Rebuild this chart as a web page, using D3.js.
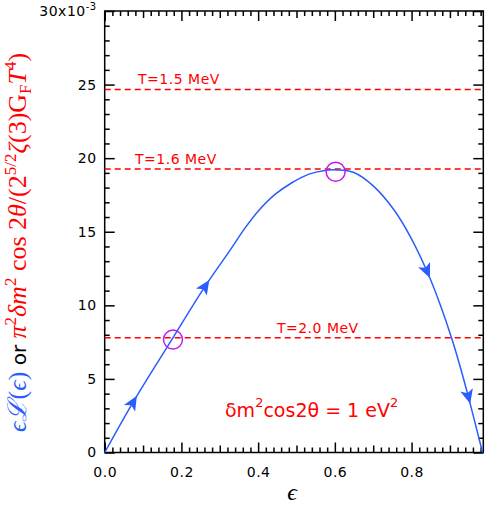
<!DOCTYPE html>
<html>
<head>
<meta charset="utf-8">
<script src="https://cdn.jsdelivr.net/npm/d3@7"></script>
<style>
  body { margin: 0; background: #fff; }
  svg { display: block; }
  .tick text { font-family: "DejaVu Sans", sans-serif; font-size: 14px; letter-spacing: 0.5px; fill: #000; }
</style>
</head>
<body>
<svg width="485" height="508"></svg>
<script>
// curve, values in units of 1e-3
var epsVals = [0, 0.075, 0.175, 0.262, 0.327, 0.366, 0.4, 0.444, 0.488, 0.531, 0.574, 0.605, 0.648, 0.70, 0.753, 0.796, 0.84, 0.874, 0.905, 0.926, 0.948, 0.985];
var lumVals = [0, 3.46, 7.67, 11.3, 13.75, 15.26, 16.4, 17.54, 18.33, 18.9, 19.17, 19.2, 19.04, 18.12, 16.53, 14.71, 12.33, 10.09, 7.73, 5.9, 3.8, 0];

// dashed temperature levels
var tempLabels = ["T=1.5 MeV", "T=1.6 MeV", "T=2.0 MeV"];
var tempLevels = [24.67, 19.26, 7.79];
var tempLabelEps = [0.087, 0.079, 0.449];

// crossing points
var circleEps = [0.178, 0.602];
var circleVals = [7.67, 19.08];

// arrow heads along the curve
var arrowEps = [0.074, 0.262, 0.84, 0.948];

var xTicks = [0, 0.2, 0.4, 0.6, 0.8];
var xMid = [0.1, 0.3, 0.5, 0.7, 0.9];
var yTicks = [0, 5, 10, 15, 20, 25, 30];

var blue = "#2a5cff", red = "#ff0000", purple = "#c21cf0";

var svg = d3.select("svg");
var pLeft = 104.7, pRight = 483.3, pTop = 11, pBottom = 452.5;

var x = d3.scaleLinear().domain([0, 0.987]).range([pLeft, pRight]);
var y = d3.scaleLinear().domain([0, 30]).range([pBottom, pTop]);

var xMinor = d3.range(0, 0.99, 0.02).filter(function(d) { return Math.abs(d * 10 - Math.round(d * 10)) > 0.01; });
var yMinor = d3.range(0, 30, 1).filter(function(d) { return d % 5 != 0; });

function tickGroup(axis, tx, ty) {
    var g = svg.append("g").attr("transform", "translate(" + tx + "," + ty + ")").call(axis);
    g.select(".domain").remove();
    g.selectAll("line").attr("stroke", "#000").attr("stroke-width", 1.5);
    return g;
}

// bottom
tickGroup(d3.axisBottom(x).tickValues(xTicks).tickSizeInner(-10).tickSizeOuter(0).tickPadding(14.5).tickFormat(d3.format(".1f")), 0, pBottom);
tickGroup(d3.axisBottom(x).tickValues(xMid).tickSizeInner(-7).tickSizeOuter(0).tickFormat(""), 0, pBottom);
tickGroup(d3.axisBottom(x).tickValues(xMinor).tickSizeInner(-5).tickSizeOuter(0).tickFormat(""), 0, pBottom);
// top
tickGroup(d3.axisTop(x).tickValues(xTicks).tickSizeInner(-10).tickSizeOuter(0).tickFormat(""), 0, pTop);
tickGroup(d3.axisTop(x).tickValues(xMid).tickSizeInner(-7).tickSizeOuter(0).tickFormat(""), 0, pTop);
tickGroup(d3.axisTop(x).tickValues(xMinor).tickSizeInner(-5).tickSizeOuter(0).tickFormat(""), 0, pTop);
// left
tickGroup(d3.axisLeft(y).tickValues(yTicks).tickSizeInner(-10).tickSizeOuter(0).tickPadding(8)
    .tickFormat(function(d) { return d == 30 ? "" : d; }), pLeft, 0);
tickGroup(d3.axisLeft(y).tickValues(yMinor).tickSizeInner(-5).tickSizeOuter(0).tickFormat(""), pLeft, 0);
// right
tickGroup(d3.axisRight(y).tickValues(yTicks).tickSizeInner(-10).tickSizeOuter(0).tickFormat(""), pRight, 0);
tickGroup(d3.axisRight(y).tickValues(yMinor).tickSizeInner(-5).tickSizeOuter(0).tickFormat(""), pRight, 0);

// 30x10^-3 label
var topLab = svg.append("text")
    .attr("x", pLeft - 8).attr("y", y(30)).attr("dy", "0.36em")
    .attr("text-anchor", "end")
    .attr("font-family", "DejaVu Sans, sans-serif").attr("font-size", 14)
    .attr("letter-spacing", 0.5);
topLab.append("tspan").text("30x10");
topLab.append("tspan").attr("dy", -6).attr("font-size", 10).text("-3");

// frame
svg.append("rect")
    .attr("x", pLeft).attr("y", pTop)
    .attr("width", pRight - pLeft).attr("height", pBottom - pTop)
    .attr("fill", "none").attr("stroke", "#000").attr("stroke-width", 1.5);

// dashed levels
svg.append("g").selectAll("line")
    .data(tempLevels)
    .enter().append("line")
    .attr("x1", pLeft).attr("x2", pRight)
    .attr("y1", function(d) { return y(d); })
    .attr("y2", function(d) { return y(d); })
    .attr("stroke", red).attr("stroke-width", 1.5)
    .attr("stroke-dasharray", "6,4");

svg.append("g").selectAll("text")
    .data(tempLabels)
    .enter().append("text")
    .attr("x", function(d, i) { return x(tempLabelEps[i]); })
    .attr("y", function(d, i) { return y(tempLevels[i]) - 5; })
    .attr("fill", red)
    .attr("font-family", "DejaVu Sans, sans-serif").attr("font-size", 14)
    .attr("letter-spacing", 0.5)
    .text(function(d) { return d; });

// curve
var pts = epsVals.map(function(e, i) { return [e, lumVals[i]]; });
var line = d3.line()
    .x(function(d) { return x(d[0]); })
    .y(function(d) { return y(d[1]); })
    .curve(d3.curveCatmullRom.alpha(0.5));

var curve = svg.append("path")
    .datum(pts)
    .attr("d", line)
    .attr("fill", "none")
    .attr("stroke", blue).attr("stroke-width", 1.5);

// arrows, placed on the drawn path
var node = curve.node();
var total = node.getTotalLength();
function lengthAtX(px) {
    var lo = 0, hi = total;
    for (var k = 0; k < 40; k++) {
        var mid = (lo + hi) / 2;
        if (node.getPointAtLength(mid).x < px) lo = mid; else hi = mid;
    }
    return lo;
}
svg.append("g").selectAll("path")
    .data(arrowEps)
    .enter().append("path")
    .attr("d", "M7.5,0 L-7,-6.5 L-3.5,0 L-7,6.5 Z")
    .attr("fill", blue)
    .attr("transform", function(d) {
        var L = lengthAtX(x(d));
        var p = node.getPointAtLength(L);
        var a = node.getPointAtLength(Math.max(0, L - 2));
        var b = node.getPointAtLength(Math.min(total, L + 2));
        var ang = Math.atan2(b.y - a.y, b.x - a.x) * 180 / Math.PI;
        return "translate(" + p.x + "," + p.y + ") rotate(" + ang + ")";
    });

// circles
svg.append("g").selectAll("circle")
    .data(circleEps)
    .enter().append("circle")
    .attr("cx", function(d) { return x(d); })
    .attr("cy", function(d, i) { return y(circleVals[i]); })
    .attr("r", 9.5)
    .attr("fill", "none")
    .attr("stroke", purple).attr("stroke-width", 1.5);

// annotation
var ann = svg.append("text")
    .attr("x", 225).attr("y", 417)
    .attr("fill", red)
    .attr("font-family", "DejaVu Sans, sans-serif").attr("font-size", 19);
ann.append("tspan").text("δm");
ann.append("tspan").attr("dy", -10).attr("font-size", 13).text("2");
ann.append("tspan").attr("dy", 10).text("cos2θ = 1 eV");
ann.append("tspan").attr("dy", -10).attr("font-size", 13).text("2");

// x label
svg.append("text")
    .attr("x", 292).attr("y", 500)
    .attr("text-anchor", "middle")
    .attr("font-family", "Liberation Serif, serif").attr("font-style", "italic").attr("font-size", 24)
    .text("ϵ");

// y label, runs upward from the bottom
var yl = svg.append("text")
    .attr("transform", "translate(26,432) rotate(-90)")
    .attr("text-anchor", "start")
    .attr("font-family", "Liberation Serif, serif").attr("font-size", 26);
yl.append("tspan").attr("fill", blue).attr("font-style", "italic").text("ϵℒ");
yl.append("tspan").attr("fill", blue).text("(");
yl.append("tspan").attr("fill", blue).attr("font-style", "italic").text("ϵ");
yl.append("tspan").attr("fill", blue).text(")");
yl.append("tspan").attr("fill", "#000").attr("font-family", "DejaVu Sans, sans-serif").attr("font-size", 20).text("  or  ");
yl.append("tspan").attr("fill", red).attr("font-style", "italic").text("π");
yl.append("tspan").attr("fill", red).attr("dy", -10).attr("font-size", 17).text("2");
yl.append("tspan").attr("fill", red).attr("dy", 10).attr("font-style", "italic").text("δm");
yl.append("tspan").attr("fill", red).attr("dy", -10).attr("font-size", 17).text("2");
yl.append("tspan").attr("fill", red).attr("dy", 10).text(" cos 2");
yl.append("tspan").attr("fill", red).attr("font-style", "italic").text("θ");
yl.append("tspan").attr("fill", red).text("/(2");
yl.append("tspan").attr("fill", red).attr("dy", -10).attr("font-size", 17).text("5/2");
yl.append("tspan").attr("fill", red).attr("dy", 10).attr("font-style", "italic").text("ζ");
yl.append("tspan").attr("fill", red).text("(3)G");
yl.append("tspan").attr("fill", red).attr("dy", 5).attr("font-size", 17).text("F");
yl.append("tspan").attr("fill", red).attr("dy", -5).attr("font-style", "italic").text("T");
yl.append("tspan").attr("fill", red).attr("dy", -10).attr("font-size", 17).text("4");
yl.append("tspan").attr("fill", red).attr("dy", 10).text(")");
</script>
</body>
</html>
